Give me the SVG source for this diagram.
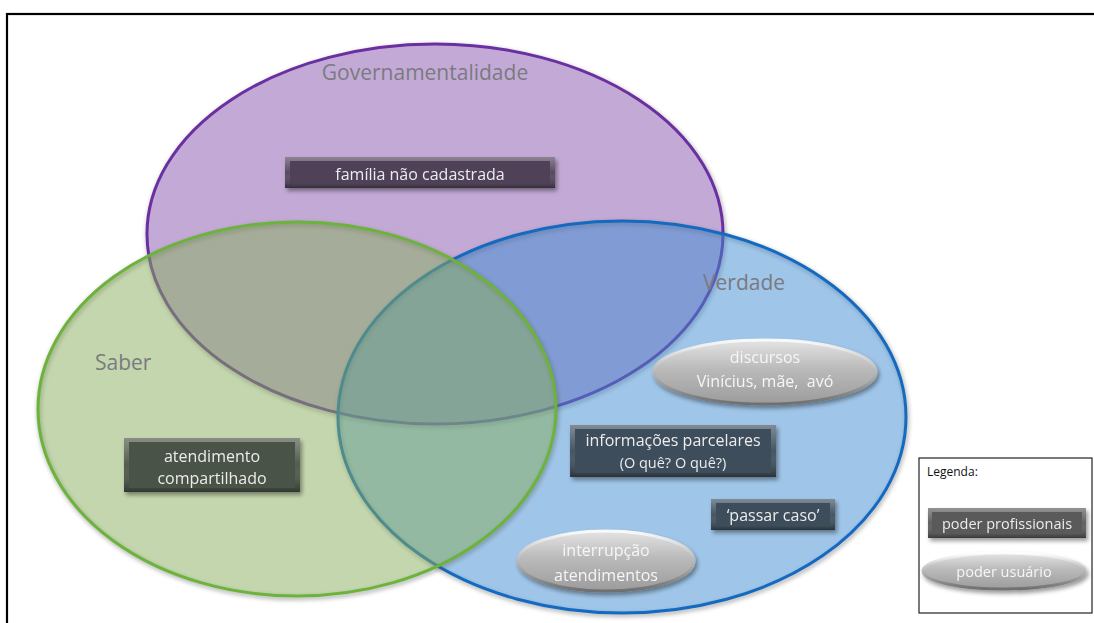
<svg xmlns="http://www.w3.org/2000/svg" width="1094" height="623" viewBox="0 0 1094 623">
  <defs>
    <!-- soft halo drawn only from the outline, so translucent fills stay clean -->
    <filter id="rimShadow" x="-10%" y="-10%" width="120%" height="120%">
      <feGaussianBlur stdDeviation="2.2"/>
    </filter>
    <filter id="boxShadow" x="-10%" y="-20%" width="125%" height="150%">
      <feDropShadow dx="2" dy="3" stdDeviation="2" flood-color="#000" flood-opacity="0.4"/>
    </filter>
    <linearGradient id="pill" x1="0" y1="0" x2="0" y2="1">
      <stop offset="0" stop-color="#e4e4e4"/>
      <stop offset="0.45" stop-color="#bababa"/>
      <stop offset="1" stop-color="#9c9c9c"/>
    </linearGradient>
    <linearGradient id="pillRim" x1="0" y1="0" x2="0" y2="1">
      <stop offset="0" stop-color="#ffffff" stop-opacity="0.9"/>
      <stop offset="1" stop-color="#6f6f6f"/>
    </linearGradient>
    <linearGradient id="bevel" x1="0" y1="0" x2="0" y2="1">
      <stop offset="0" stop-color="#ffffff" stop-opacity="0.35"/>
      <stop offset="0.5" stop-color="#ffffff" stop-opacity="0.05"/>
      <stop offset="1" stop-color="#000000" stop-opacity="0.35"/>
    </linearGradient>
  </defs>
  <style>
    .set-label { font-family: "Open Sans", "Liberation Sans", sans-serif; font-size: 21px; fill: #7a7a80; }
    .box-text { font-family: "Open Sans", "Liberation Sans", sans-serif; font-size: 16px; fill: #ececec; text-anchor: middle; white-space: pre; }
    .pill-text { font-family: "Open Sans", "Liberation Sans", sans-serif; font-size: 16px; fill: #f6f6f6; text-anchor: middle; white-space: pre; }
    .bevel-edge { fill: url(#bevel); }
    .pill { fill: url(#pill); stroke: url(#pillRim); stroke-width: 3; }
    .rim { fill: none; stroke: #555; stroke-width: 4; opacity: 0.45; filter: url(#rimShadow); }
  </style>

  <rect width="1094" height="623" fill="#ffffff"/>
  <!-- outer frame -->
  <rect x="7" y="14" width="1100" height="620" fill="none" stroke="#000" stroke-width="2.2"/>

  <!-- overlapping sets -->
  <g id="set-governamentalidade">
    <ellipse class="rim" cx="436" cy="236" rx="288" ry="190"/>
    <ellipse cx="435" cy="234" rx="288" ry="190" fill="#c3aad6" stroke="#6a2fa0" stroke-width="3"/>
  </g>
  <g id="set-verdade">
    <ellipse class="rim" cx="623" cy="419" rx="284" ry="196"/>
    <ellipse cx="622" cy="417" rx="284" ry="196" fill="#3f8bd1" fill-opacity="0.5" stroke="#1469c0" stroke-width="3"/>
  </g>
  <g id="set-saber">
    <ellipse class="rim" cx="298" cy="411" rx="259" ry="187"/>
    <ellipse cx="297" cy="409" rx="259" ry="187" fill="#87ad5b" fill-opacity="0.5" stroke="#6cb33c" stroke-width="3"/>
  </g>

  <text class="set-label" x="425" y="80" text-anchor="middle">Governamentalidade</text>
  <text class="set-label" x="95" y="370">Saber</text>
  <text class="set-label" x="703" y="290">Verdade</text>

  <!-- poder profissionais boxes -->
  <g id="familia-nao-cadastrada" filter="url(#boxShadow)">
    <rect x="285" y="157" width="270" height="31" fill="#4f4259"/>
    <rect x="285" y="157" width="270" height="31" class="bevel-edge"/>
    <rect x="290" y="161" width="260" height="23" fill="#4f4259"/>
    <text class="box-text" x="420" y="180">família não cadastrada</text>
  </g>

  <g id="atendimento-compartilhado" filter="url(#boxShadow)">
    <rect x="124" y="438" width="176" height="54" fill="#4a5346"/>
    <rect x="124" y="438" width="176" height="54" class="bevel-edge"/>
    <rect x="129" y="442" width="166" height="46" fill="#4a5346"/>
    <text class="box-text" x="212" y="462">atendimento</text>
    <text class="box-text" x="212" y="484">compartilhado</text>
  </g>

  <g id="informacoes-parcelares" filter="url(#boxShadow)">
    <rect x="570" y="425" width="206" height="52" fill="#3c4d5b"/>
    <rect x="570" y="425" width="206" height="52" class="bevel-edge"/>
    <rect x="575" y="429" width="196" height="44" fill="#3c4d5b"/>
    <text class="box-text" x="673" y="446">informações parcelares</text>
    <text class="box-text" x="673" y="468" style="font-size:14.5px">(O quê? O quê?)</text>
  </g>

  <g id="passar-caso" filter="url(#boxShadow)">
    <rect x="711" y="499" width="124" height="31" fill="#3c4d5b"/>
    <rect x="711" y="499" width="124" height="31" class="bevel-edge"/>
    <rect x="716" y="503" width="114" height="23" fill="#3c4d5b"/>
    <text class="box-text" x="773" y="521">‘passar caso’</text>
  </g>

  <!-- poder usuário pills -->
  <g id="discursos" filter="url(#boxShadow)">
    <ellipse class="pill" cx="765" cy="372" rx="111" ry="32"/>
    <text class="pill-text" x="765" y="363">discursos</text>
    <text class="pill-text" x="765" y="387">Vinícius, mãe,  avó</text>
  </g>

  <g id="interrupcao-atendimentos" filter="url(#boxShadow)">
    <ellipse class="pill" cx="606" cy="561" rx="88" ry="30"/>
    <text class="pill-text" x="606" y="556">interrupção</text>
    <text class="pill-text" x="606" y="581">atendimentos</text>
  </g>

  <!-- legend -->
  <g id="legenda">
    <rect x="919" y="458" width="173" height="155" fill="#ffffff" stroke="#222" stroke-width="1.2"/>
    <text x="927" y="476" style="font-family:'Open Sans','Liberation Sans',sans-serif;font-size:12px;fill:#111">Legenda:</text>
    <g filter="url(#boxShadow)">
      <rect x="928" y="508" width="158" height="30" fill="#5a5a5a"/>
      <rect x="928" y="508" width="158" height="30" class="bevel-edge"/>
      <rect x="932" y="512" width="150" height="22" fill="#5a5a5a"/>
      <text class="box-text" x="1007" y="529" style="font-size:14.5px">poder profissionais</text>
    </g>
    <g filter="url(#boxShadow)">
      <ellipse class="pill" cx="1004" cy="571" rx="81" ry="18"/>
      <text class="pill-text" x="1004" y="577" style="font-size:14.5px">poder usuário</text>
    </g>
  </g>
</svg>
